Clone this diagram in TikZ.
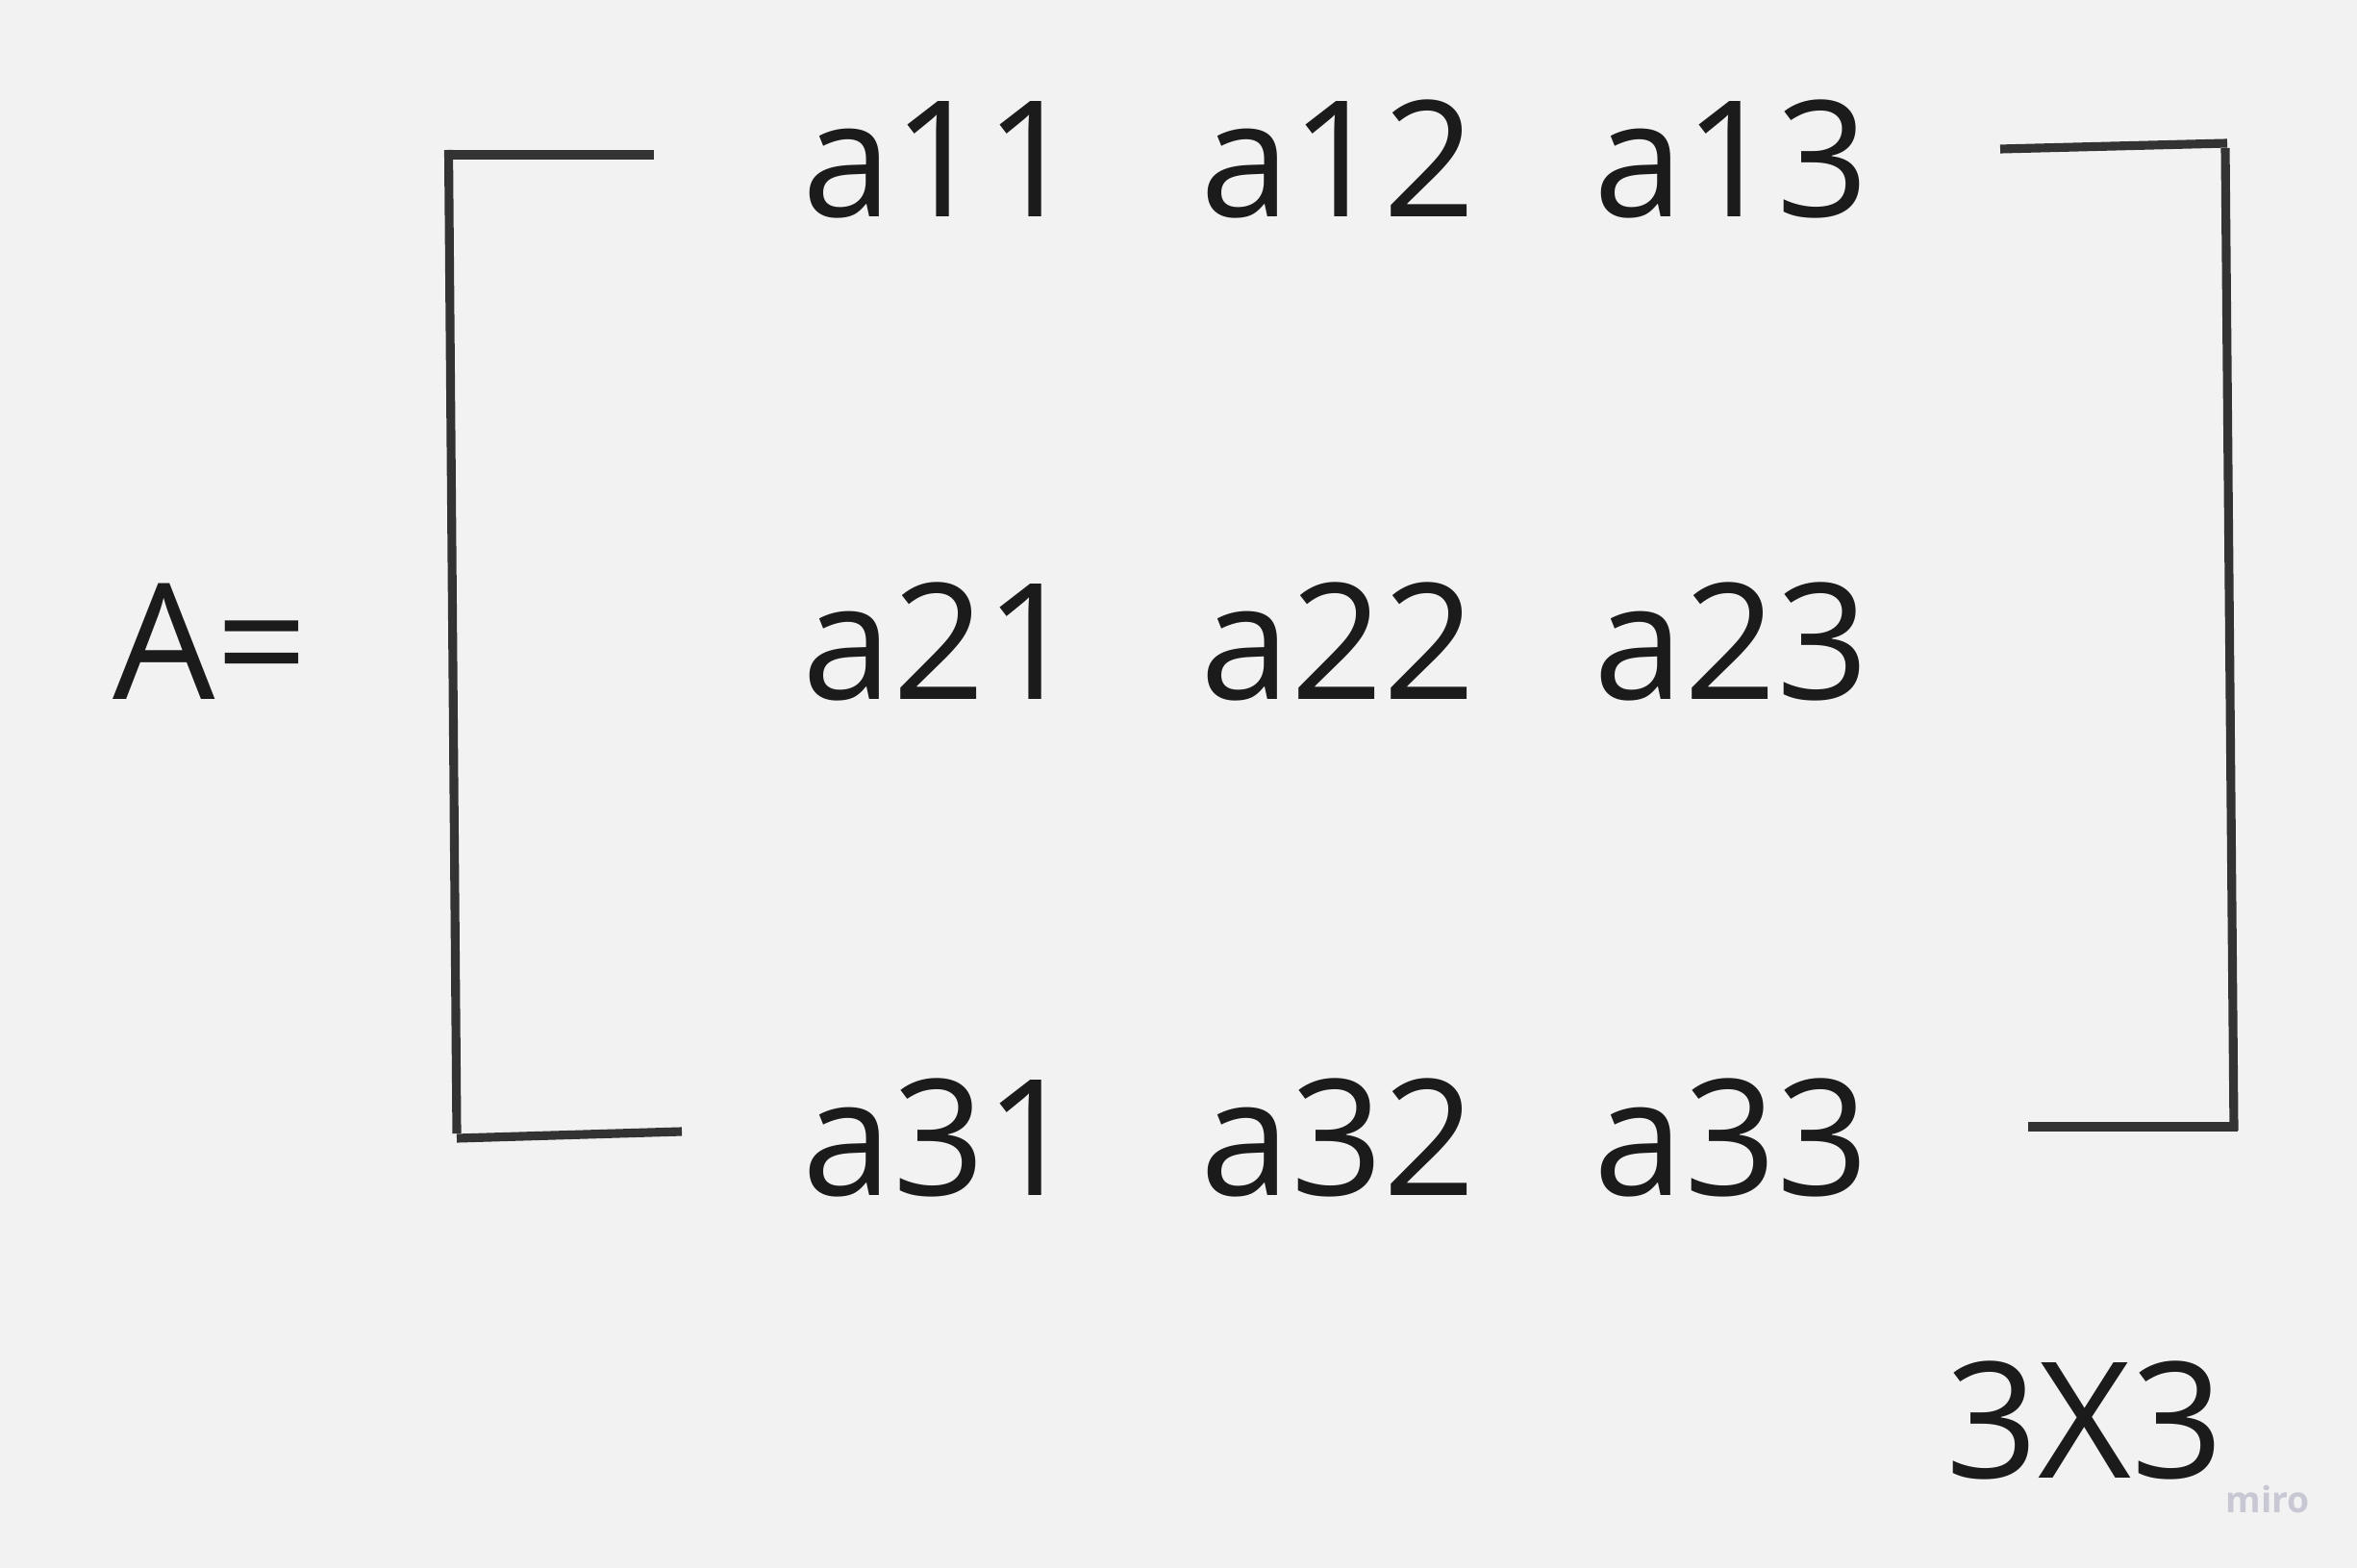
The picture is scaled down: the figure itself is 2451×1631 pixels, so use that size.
\documentclass[tikz,border=0pt]{standalone}
\usepackage{fontspec}
\setmainfont{Open Sans}
\usepackage{tikz}
\usepackage{xcolor}
\usetikzlibrary{positioning, calc}

\definecolor{boardbg}{RGB}{242,242,242}
\definecolor{inkc}{RGB}{27,27,27}
\definecolor{brackc}{RGB}{51,51,51}
\definecolor{miroc}{RGB}{200,200,212}

\begin{document}
\begin{tikzpicture}[x=0.01cm, y=-0.01cm,
        entry/.style={inner sep=0pt, anchor=base west, text=inkc, font=\fontsize{47.8}{50}\selectfont},
        brack/.style={draw=brackc, line width=2.6pt}]
        \fill[boardbg] (0,0) rectangle (2451,1631);
        % left hand side
        \node[entry] (lhs) at (117,728) {A=};
        % the entries
        \node[entry] (e11) at (834,225.7) {a11};
        \node[entry] (e12) at (1248,225.7) {a12};
        \node[entry] (e13) at (1657,225.7) {a13};
        \node[entry] (e21) at (834,727.5) {a21};
        \node[entry] (e22) at (1248,727.5) {a22};
        \node[entry] (e23) at (1657,727.5) {a23};
        \node[entry] (e31) at (834,1243.5) {a31};
        \node[entry] (e32) at (1248,1243.5) {a32};
        \node[entry] (e33) at (1657,1243.5) {a33};
        % brackets
        \draw[brack] (462,161) -- (680,161);
        \draw[brack] (466.5,156) -- (475,1179);
        \draw[brack] (475,1184) -- (709,1177);
        \draw[brack] (2080,155) -- (2316,149);
        \draw[brack] (2314,154) -- (2323,1176);
        \draw[brack] (2109,1172) -- (2327,1172);
        % size
        \node[entry] (size) at (2023,1537) {3X3};
        \node[inner sep=0pt, anchor=base west, text=miroc, font=\fontsize{10.6}{12}\selectfont\bfseries] (miro) at (2314,1573) {miro};
\end{tikzpicture}
\end{document}
